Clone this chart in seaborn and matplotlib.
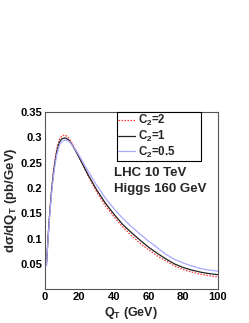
"""
Phân bố Q_T của Higgs 160 GeV tại LHC 10 TeV với ba giá trị C2.
"""

import matplotlib

matplotlib.use("Agg")

import matplotlib.pyplot as plt
import pandas as pd
import seaborn as sns
from matplotlib.patches import Rectangle
from matplotlib.ticker import MultipleLocator
from matplotlib.transforms import IdentityTransform

# --------------------------------------------------------------------------- #
# Dữ liệu
# --------------------------------------------------------------------------- #
qt = [1, 2, 3, 4, 5, 6, 7, 8, 9, 10, 12, 14, 16, 18, 20, 25, 30, 35, 40, 45,
      50, 55, 60, 65, 70, 75, 80, 85, 90, 95, 100]

c2_2 = [0.048, 0.107, 0.158, 0.199, 0.232, 0.258, 0.277, 0.291, 0.299, 0.303,
        0.304, 0.298, 0.287, 0.274, 0.260, 0.224, 0.192, 0.165, 0.143, 0.123,
        0.106, 0.091, 0.078, 0.066, 0.056, 0.046, 0.039, 0.034, 0.030, 0.027,
        0.024]
c2_1 = [0.048, 0.105, 0.155, 0.195, 0.228, 0.253, 0.272, 0.285, 0.293, 0.297,
        0.2985, 0.294, 0.284, 0.272, 0.259, 0.226, 0.196, 0.170, 0.148, 0.128,
        0.112, 0.097, 0.083, 0.071, 0.060, 0.050, 0.043, 0.038, 0.034, 0.031,
        0.029]
c2_05 = [0.048, 0.102, 0.151, 0.190, 0.222, 0.247, 0.266, 0.279, 0.288, 0.292,
         0.2945, 0.292, 0.284, 0.274, 0.263, 0.233, 0.205, 0.180, 0.159, 0.140,
         0.124, 0.109, 0.095, 0.082, 0.069, 0.059, 0.052, 0.046, 0.041, 0.038,
         0.036]

series_names = ["C2=2", "C2=1", "C2=0.5"]
legend_labels = ["C$_2$=2", "C$_2$=1", "C$_2$=0.5"]
x_ticks = [0, 20, 40, 60, 80, 100]
y_ticks = [0.05, 0.1, 0.15, 0.2, 0.25, 0.3, 0.35]
y_tick_labels = ["0.05", "0.1", "0.15", "0.2", "0.25", "0.3", "0.35"]

df = pd.concat(
    [
        pd.DataFrame({"QT": qt, "val": v, "C2": name})
        for name, v in zip(series_names, [c2_2, c2_1, c2_05])
    ],
    ignore_index=True,
)

# --------------------------------------------------------------------------- #
# Style
# --------------------------------------------------------------------------- #
sns.set_style("white")
plt.rcParams["font.family"] = ["Liberation Sans", "DejaVu Sans"]
plt.rcParams["font.weight"] = "bold"
plt.rcParams["mathtext.fontset"] = "custom"
plt.rcParams["mathtext.default"] = "bf"
plt.rcParams["mathtext.bf"] = "Liberation Sans:bold"
plt.rcParams["mathtext.rm"] = "Liberation Sans:bold"

fig = plt.figure(figsize=(2.49, 3.23), dpi=100)
ax = fig.add_axes([0.1795, 0.104, 0.696, 0.55])

palette = {"C2=2": "#ff3030", "C2=1": "#222222", "C2=0.5": "#a8a8ff"}
dashes = {"C2=2": (1.2, 1.2), "C2=1": "", "C2=0.5": ""}

sns.lineplot(
    data=df,
    x="QT",
    y="val",
    hue="C2",
    style="C2",
    hue_order=series_names,
    style_order=series_names,
    palette=palette,
    dashes=dashes,
    linewidth=0.9,
    legend=False,
    ax=ax,
)

ax.set_xlim(0, 100)
ax.set_ylim(0, 0.35)
ax.set_xticks(x_ticks)
ax.set_xticklabels([str(t) for t in x_ticks])
ax.set_yticks(y_ticks)
ax.set_yticklabels(y_tick_labels)
ax.xaxis.set_minor_locator(MultipleLocator(5))
ax.yaxis.set_minor_locator(MultipleLocator(0.01))
ax.tick_params(which="both", direction="in", top=False, right=False,
               labelsize=8, pad=2, colors="black")
ax.tick_params(which="major", length=4, width=0.6)
ax.tick_params(which="minor", length=2, width=0.6)
for lab in ax.get_xticklabels() + ax.get_yticklabels():
    lab.set_fontweight("bold")

for sp in ax.spines.values():
    sp.set_color("#555555")
    sp.set_linewidth(0.8)

ax.set_xlabel("Q$_\\mathbf{T}$ (GeV)", fontsize=9, fontweight="bold")
ax.xaxis.set_label_coords(0.5, -0.085)
ax.set_ylabel("dσ/dQ$_\\mathbf{T}$ (pb/GeV)", fontsize=9.5, fontweight="bold", labelpad=1)

# Legend kiểu ROOT
leg = ax.legend(
    ax.lines[:3],
    legend_labels,
    loc="upper left",
    bbox_to_anchor=(0.415, 0.728, 0.485, 0.272),
    mode="expand",
    borderaxespad=0,
    fancybox=False,
    frameon=True,
    framealpha=1,
    facecolor="white",
    edgecolor="black",
    handlelength=1.5,
    handletextpad=0.25,
    labelspacing=0.05,
    borderpad=0.12,
    prop={"weight": "bold", "size": 8.3},
)
leg.get_frame().set_linewidth(0.8)
leg.set_zorder(10)

# Bóng đen mỏng phía phải/dưới
fig.canvas.draw()
bb = leg.get_frame().get_window_extent()
shadow = Rectangle((bb.x0 + 1.5, bb.y0 - 1.5), bb.width, bb.height,
                   transform=IdentityTransform(), facecolor="black",
                   edgecolor="none", zorder=9, clip_on=False)
ax.add_artist(shadow)

ax.text(0.40, 0.655, "LHC 10 TeV", transform=ax.transAxes,
        fontsize=9.5, fontweight="bold", va="center", ha="left")
ax.text(0.40, 0.565, "Higgs 160 GeV", transform=ax.transAxes,
        fontsize=9.5, fontweight="bold", va="center", ha="left")

fig.savefig("out.png", dpi=100)
plt.close(fig)
